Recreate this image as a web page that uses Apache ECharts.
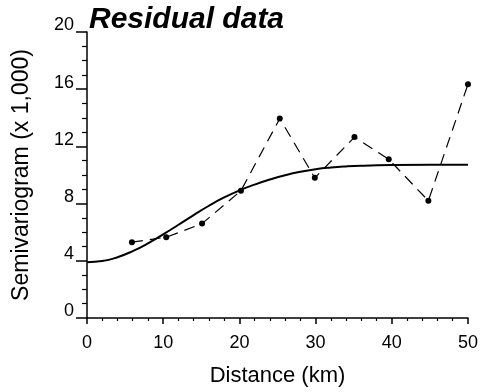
<!DOCTYPE html>
<html>
<head>
<meta charset="utf-8">
<script src="https://cdn.jsdelivr.net/npm/echarts@6/dist/echarts.min.js"></script>
<style>
html,body{margin:0;padding:0;background:#fff;}
#chart{width:481px;height:392px;}
</style>
</head>
<body>
<div id="chart"></div>
<script>
// Experimental semivariogram points (distance km, semivariance x1000)
var expDistance = [5.9, 10.4, 15.1, 20.2, 25.3, 29.9, 35.1, 39.6, 44.8, 50.0];
var expGamma    = [5.3, 5.65, 6.6, 8.9, 13.95, 9.8, 12.65, 11.1, 8.2, 16.35];

// Fitted model curve
var modelDistance = [0, 2, 4, 6, 8, 10, 12, 14, 16, 18, 20, 22, 24, 26, 28, 30, 32, 34, 36, 40, 45, 50];
var modelGamma    = [3.9, 3.98, 4.25, 4.68, 5.22, 5.85, 6.52, 7.2, 7.85, 8.43, 8.92, 9.33, 9.68, 9.98, 10.22, 10.4, 10.52, 10.6, 10.65, 10.7, 10.72, 10.72];

var xTicks = [0, 10, 20, 30, 40, 50];
var yTicks = [0, 4, 8, 12, 16, 20];

var FONT = 'Liberation Sans';

function pairs(xs, ys) {
  return xs.map(function (x, i) { return [x, ys[i]]; });
}

var chart = echarts.init(document.getElementById('chart'), null, {renderer: 'canvas'});
chart.setOption({
  animation: false,
  backgroundColor: '#ffffff',
  title: {
    text: 'Residual data',
    left: 84,
    top: 0,
    textStyle: {
      fontFamily: FONT,
      fontSize: 30,
      fontWeight: 'bold',
      fontStyle: 'italic',
      color: '#000'
    }
  },
  grid: {left: 87, right: 9, top: 32, bottom: 74, containLabel: false},
  xAxis: {
    type: 'value',
    min: xTicks[0],
    max: xTicks[xTicks.length - 1],
    interval: 10,
    name: 'Distance (km)',
    nameLocation: 'middle',
    nameGap: 47,
    nameTextStyle: {fontFamily: FONT, fontSize: 22, color: '#000'},
    axisLine: {show: true, lineStyle: {color: '#000', width: 1.5}},
    axisTick: {show: true, inside: false, length: 6, lineStyle: {color: '#000', width: 1.5}},
    minorTick: {show: true, splitNumber: 5, length: 3, lineStyle: {color: '#000', width: 1.2}},
    axisLabel: {
      fontFamily: FONT, fontSize: 18, color: '#000', margin: 16,
      formatter: function (v) { return xTicks.indexOf(v) >= 0 ? String(v) : ''; }
    },
    splitLine: {show: false}
  },
  yAxis: {
    type: 'value',
    min: yTicks[0],
    max: yTicks[yTicks.length - 1],
    interval: 4,
    name: 'Semivariogram (x 1,000)',
    nameLocation: 'middle',
    nameGap: 54,
    nameTextStyle: {fontFamily: FONT, fontSize: 23, color: '#000'},
    axisLine: {show: true, lineStyle: {color: '#000', width: 1.5}},
    axisTick: {show: true, inside: false, length: 11, lineStyle: {color: '#000', width: 1.5}},
    minorTick: {show: true, splitNumber: 4, length: 5, lineStyle: {color: '#000', width: 1.2}},
    axisLabel: {
      fontFamily: FONT, fontSize: 18, color: '#000', margin: 13,
      verticalAlign: 'bottom', lineHeight: 13,
      formatter: function (v) { return yTicks.indexOf(v) >= 0 ? String(v) : ''; }
    },
    splitLine: {show: false}
  },
  series: [
    {
      name: 'Model',
      type: 'line',
      data: pairs(modelDistance, modelGamma),
      smooth: true,
      showSymbol: false,
      lineStyle: {color: '#000', width: 2},
      z: 2
    },
    {
      name: 'Experimental',
      type: 'line',
      data: pairs(expDistance, expGamma),
      symbol: 'circle',
      symbolSize: 6,
      showAllSymbol: true,
      itemStyle: {color: '#000'},
      lineStyle: {color: '#000', width: 1.2, type: [11, 7]},
      z: 3
    }
  ]
});
</script>
</body>
</html>
